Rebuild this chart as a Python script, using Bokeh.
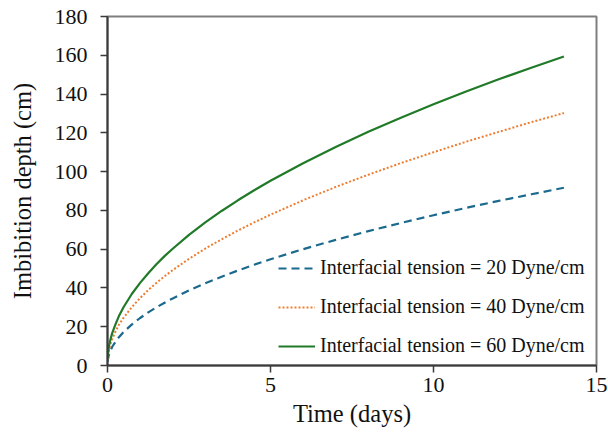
from bokeh.plotting import figure
from bokeh.models import Range1d, Legend, LegendItem, FixedTicker
from bokeh.embed import file_html
from bokeh.resources import INLINE

# Time (days)
time_days = [0, 0.05, 0.1, 0.15, 0.25, 0.35, 0.5, 0.75, 1, 1.25, 1.5, 1.75, 2, 2.5, 3, 3.5, 4, 4.5,
             5, 6, 7, 8, 9, 10, 11, 12, 13, 14]
# Imbibition depth (cm) for each interfacial tension
depth_20 = [2, 6, 8, 9.8, 12.4, 14.6, 17.4, 21.2, 24.5, 27.4, 30, 32.4, 34.6, 38.7, 42.4, 45.8, 49, 52,
            54.8, 60, 64.8, 69.3, 73.5, 77.5, 81.3, 84.9, 88.3, 91.7]
depth_40 = [3, 8.5, 11.5, 14, 17.7, 21, 24.8, 30.2, 34.8, 38.9, 42.6, 46, 49.2, 55, 60.3, 65.1, 69.6, 73.8,
            77.8, 85.2, 92.1, 98.4, 104.4, 110, 115.4, 120.5, 125.5, 130.2]
depth_60 = [4, 10.5, 14, 17, 21.5, 25.5, 30.3, 37, 42.6, 47.6, 52.2, 56.4, 60.2, 67.4, 73.8, 79.7, 85.2, 90.4,
            95.3, 104.3, 112.7, 120.5, 127.8, 134.7, 141.3, 147.6, 153.6, 159.4]
labels = ["Interfacial tension = 20 Dyne/cm",
          "Interfacial tension = 40 Dyne/cm",
          "Interfacial tension = 60 Dyne/cm"]
x_ticks = [0, 5, 10, 15]
y_ticks = [0, 20, 40, 60, 80, 100, 120, 140, 160, 180]

FONT = "Liberation Serif"

p = figure(frame_width=489, frame_height=349, output_backend="svg", toolbar_location=None,
           x_range=Range1d(0, 15), y_range=Range1d(0, 180),
           min_border_left=107, min_border_right=12, min_border_top=16, min_border_bottom=77,
           outline_line_color="#7f7f7f", outline_line_width=2)
p.grid.visible = False

r20 = p.line(time_days, depth_20, line_color="#1b6a8e", line_width=2.2, line_dash="8 5")
r40 = p.line(time_days, depth_40, line_color="#ed7d31", line_width=2, line_dash="2 2")
r60 = p.line(time_days, depth_60, line_color="#217a28", line_width=2.2)

p.xaxis.ticker = FixedTicker(ticks=x_ticks)
p.yaxis.ticker = FixedTicker(ticks=y_ticks)
p.xaxis.axis_label = "Time (days)"
p.yaxis.axis_label = "Imbibition depth (cm)"

p.axis.axis_line_color = "#3a3a3a"
p.axis.axis_line_width = 2
p.axis.major_tick_line_color = "#3a3a3a"
p.axis.major_tick_line_width = 1.5
p.axis.major_tick_out = 7
p.axis.major_tick_in = 0
p.axis.minor_tick_line_color = None
p.axis.major_label_text_font = FONT
p.axis.major_label_text_font_size = "22px"
p.axis.major_label_text_color = "#111111"
p.axis.axis_label_text_font = FONT
p.axis.axis_label_text_font_size = "24.5px"
p.axis.axis_label_text_font_style = "normal"
p.axis.axis_label_text_color = "#111111"

p.xaxis.major_label_standoff = 5
p.yaxis.major_label_standoff = 13
p.xaxis.axis_label_standoff = 5
p.yaxis.axis_label_standoff = 16

legend = Legend(items=[LegendItem(label=labels[0], renderers=[r20]),
                       LegendItem(label=labels[1], renderers=[r40]),
                       LegendItem(label=labels[2], renderers=[r60])],
                location=(171, 8), padding=0, margin=0, spacing=16,
                glyph_width=37, glyph_height=20, label_height=20, label_standoff=5,
                label_text_font=FONT, label_text_font_size="20px", label_text_color="#111111",
                background_fill_alpha=0, border_line_alpha=0)
p.add_layout(legend)

open("out.html", "w").write(file_html(p, INLINE))
